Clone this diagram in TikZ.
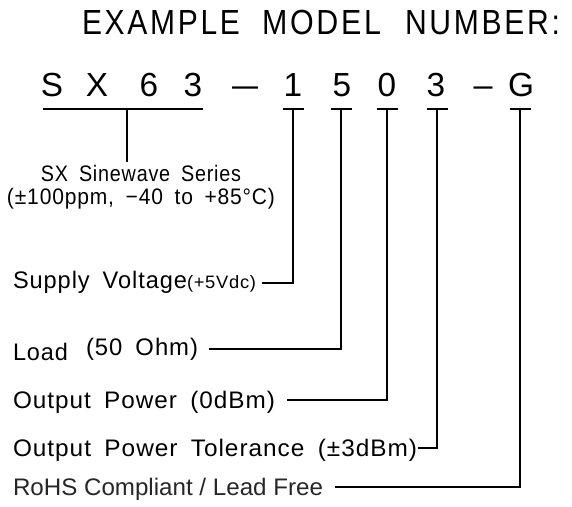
\documentclass[tikz,border=0pt]{standalone}
\usepackage{fontspec}
\setmainfont{Liberation Sans}
\newfontfamily\labfont{Liberation Sans}[LetterSpace=4]
\newfontfamily\cadfont{Liberation Sans}[LetterSpace=9]
\newfontfamily\numfont{Liberation Sans}
\newcommand\fitw[2]{\resizebox{#1}{\height}{#2}}
\newcommand\gap{\hspace{0.55em}}
\begin{document}
\begin{tikzpicture}[x=1bp,y=-1bp,line width=2bp,
  ttl/.style={anchor=base west,inner sep=0pt,font=\cadfont\fontsize{35}{40}\selectfont},
  chr/.style={anchor=base,inner sep=0pt,font=\numfont\fontsize{33.5}{36}\selectfont},
  lbl/.style={anchor=base west,inner sep=0pt,font=\labfont\fontsize{24}{28}\selectfont},
  lblc/.style={anchor=base,inner sep=0pt,font=\labfont\fontsize{22.5}{26}\selectfont},
  small/.style={anchor=base west,inner sep=0pt,font=\labfont\fontsize{18}{20}\selectfont},
  rohs/.style={anchor=base west,inner sep=0pt,text=black!85,font=\fontsize{24}{28}\selectfont}]
\useasboundingbox (0,0) rectangle (572,507);
% title
\node[ttl] (t1) at (81,35) {\fitw{158bp}{EXAMPLE}};
\node[ttl] (t2) at (261,35) {\fitw{119bp}{MODEL}};
\node[ttl] (t3) at (404,35) {\fitw{155bp}{NUMBER:}};
% model number
\node[chr] (cS) at (52,97) {S};
\node[chr] (cX) at (97,97) {X};
\node[chr] (c6) at (149,97) {6};
\node[chr] (c3) at (193,97) {3};
\node[chr] (d1) at (245,97) {\fitw{26bp}{–}};
\node[chr] (n1) at (293,97) {1};
\node[chr] (n5) at (342,97) {5};
\node[chr] (n0) at (387,97) {0};
\node[chr] (n3) at (436,97) {3};
\node[chr] (d2) at (483,97) {\fitw{19bp}{–}};
\node[chr] (nG) at (521,97) {G};
% labels
\node[lblc] (sx1) at (141,182) {\fitw{200bp}{SX\gap Sinewave\gap Series}};
\node[lblc] (sx2) at (141,205) {\fitw{268bp}{(±100ppm,\gap −40\gap to\gap +85°C)}};
\node[lbl] (l1) at (12,288) {\fitw{174bp}{Supply\gap Voltage}};
\node[small] (l1b) at (186,288) {\fitw{69bp}{(+5Vdc)}};
\node[lbl] (l2) at (12,360) {\fitw{55bp}{Load}};
\node[lbl] (l2b) at (85,355) {\fitw{112bp}{(50\gap Ohm)}};
\node[lbl] (l3) at (12,408) {\fitw{262bp}{Output\gap Power\gap (0dBm)}};
\node[lbl] (l4) at (12,456) {\fitw{404bp}{Output\gap Power\gap Tolerance\gap (±3dBm)}};
\node[rohs] (l5) at (12,495) {\fitw{310bp}{RoHS Compliant / Lead Free}};
% bars
\coordinate (ul) at (43,109);
\coordinate (ur) at (203,109);
\coordinate (u0) at (127,109);
\coordinate (u1) at (127,162);
\draw (ul) -- (ur);
\draw (u0) -- (u1);
\coordinate (b1) at (293,109);
\coordinate (b5) at (341,109);
\coordinate (b0) at (387,109);
\coordinate (b3) at (437,109);
\coordinate (bG) at (520,109);
\foreach \b in {b1,b5,b0,b3,bG}{
  \draw ([xshift=-10.5bp]\b) -- ([xshift=10.5bp]\b);
}
\coordinate (e1) at (262,283);
\coordinate (e2) at (209,349);
\coordinate (e3) at (287,400);
\coordinate (e4) at (418,448);
\coordinate (e5) at (335,487);
\draw (b1) |- (e1);
\draw (b5) |- (e2);
\draw (b0) |- (e3);
\draw (b3) |- (e4);
\draw (bG) |- (e5);
\end{tikzpicture}
\end{document}
